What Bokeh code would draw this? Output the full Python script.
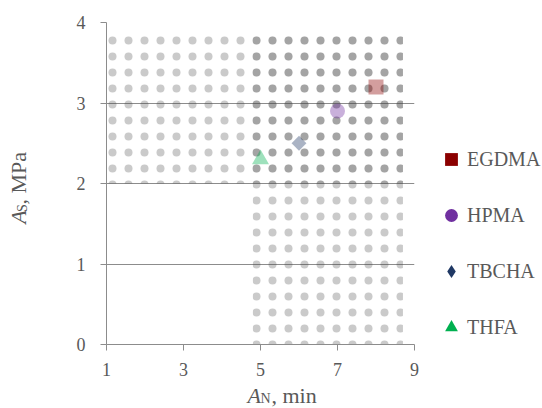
import math
from bokeh.plotting import figure
from bokeh.layouts import row, column
from bokeh.models import Range1d, Legend, LegendItem, Label, FixedTicker
from bokeh.embed import file_html
from bokeh.resources import INLINE

# ---- data ----
names = ["EGDMA", "HPMA", "TBCHA", "THFA"]
a_n = [8, 7, 6, 5]            # A_N, min
a_s = [3.2, 2.9, 2.5, 2.3]    # A_S, MPa
markers = ["square", "circle", "diamond", "triangle"]
colors = ["#8B0000", "#7030A0", "#1F3864", "#00B050"]
x_ticks = [1, 3, 5, 7, 9]
y_ticks = [0, 1, 2, 3, 4]
# dotted zones (x0, x1, y0, y1)
zone_x0 = [1.0, 4.8]
zone_x1 = [8.7, 8.7]
zone_y0 = [2.0, 0.0]
zone_y1 = [3.85, 3.85]

FONT = "Liberation Serif"
GREY = "#595959"
AXC = "#8c8c8c"

# ---------------- main chart ----------------
p = figure(frame_width=308, frame_height=322, output_backend="svg",
           toolbar_location=None, x_range=Range1d(1, 9), y_range=Range1d(0, 4),
           min_border_left=66, min_border_right=124, min_border_top=22,
           min_border_bottom=40)
p.outline_line_color = None

p.quad(left=zone_x0, right=zone_x1, bottom=zone_y0, top=zone_y1,
       fill_color=None, line_color=None, hatch_pattern=".",
       hatch_color="#404040", hatch_alpha=0.28, hatch_scale=16,
       hatch_weight=0.3)

items = []
for n, x, y, m, c in zip(names, a_n, a_s, markers, colors):
    if m == "diamond":
        p.scatter(x=[x], y=[y], marker="square", angle=math.pi / 4, size=10.5,
                  fill_color=c, fill_alpha=0.38, line_color=None)
    else:
        p.scatter(x=[x], y=[y], marker=m, size=15 if m != "triangle" else 17,
                  fill_color=c, fill_alpha=0.38, line_color=None)
    # solid proxy for the legend (zero size in the plot)
    r = p.scatter(x=[x], y=[y], marker=m, size=0, fill_color=c, line_color=None)
    items.append(LegendItem(label=n, renderers=[r]))

leg = Legend(items=items, location=(21, 1), orientation="vertical",
             border_line_color=None, background_fill_alpha=0,
             label_text_font=FONT, label_text_font_size="20px",
             label_text_color=GREY, glyph_width=32, glyph_height=32,
             label_standoff=0, spacing=24, padding=0, margin=0)
p.add_layout(leg, "right")

for ax in (p.xaxis, p.yaxis):
    ax.axis_line_color = AXC
    ax.major_tick_line_color = AXC
    ax.minor_tick_line_color = None
    ax.major_tick_in = 0
    ax.major_tick_out = 6
    ax.major_label_text_font = FONT
    ax.major_label_text_font_size = "18px"
    ax.major_label_text_color = GREY
p.xaxis.ticker = FixedTicker(ticks=x_ticks)
p.yaxis.ticker = FixedTicker(ticks=y_ticks)
p.xaxis.major_label_standoff = 12
p.yaxis.major_label_standoff = 15
p.xgrid.grid_line_color = None
p.ygrid.ticker = FixedTicker(ticks=y_ticks)
p.ygrid.grid_line_color = AXC


def blank(w, h, xr, yr):
    f = figure(width=w, height=h, output_backend="svg", toolbar_location=None,
               x_range=xr, y_range=yr, x_axis_location=None,
               y_axis_location=None, min_border=0)
    f.outline_line_color = None
    f.grid.visible = False
    return f


def lab(f, text, x, y, size, style="normal", angle=0):
    f.add_layout(Label(x=x, y=y, text=text, text_font=FONT,
                       text_font_size=size, text_font_style=style,
                       text_color=GREY, angle=angle,
                       text_baseline="alphabetic"))

# y-axis title (pixel-like coordinates, y downwards)
yfig = blank(40, 384, Range1d(0, 40), Range1d(384, 0))
ang = math.pi / 2
lab(yfig, "A", 18, 240, "22px", "italic", ang)
lab(yfig, "S", 22, 226, "14px", "normal", ang)
lab(yfig, ", MPa", 18, 217, "22px", "normal", ang)

# x-axis title
xfig = blank(538, 24, Range1d(0, 538), Range1d(24, 0))
lab(xfig, "A", 247, 11, "22px", "italic")
lab(xfig, "N", 260, 14, "14px")
lab(xfig, ", min", 271, 11, "22px")

layout = column(row(yfig, p), xfig)
open("out.html", "w").write(file_html(layout, INLINE))
